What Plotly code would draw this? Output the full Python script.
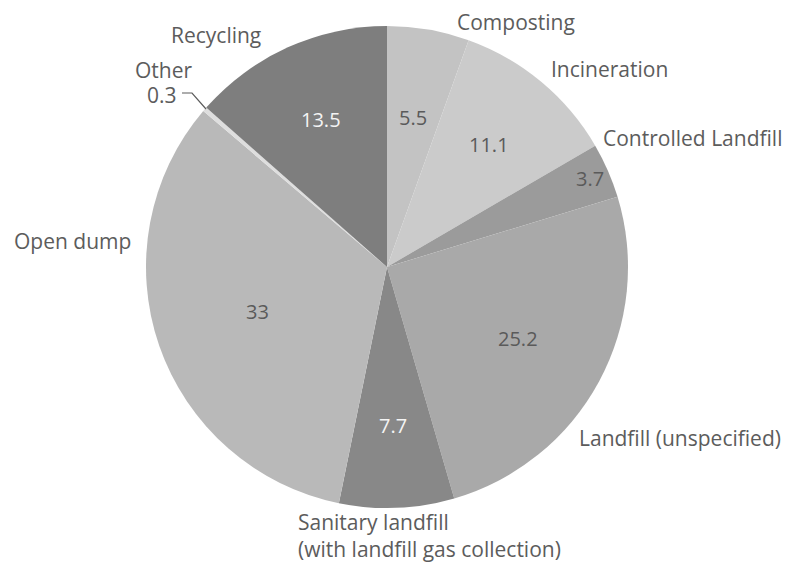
import math

import plotly.graph_objects as go

# Shares of waste treatment / disposal (%)
LABELS = [
    "Composting",
    "Incineration",
    "Controlled Landfill",
    "Landfill (unspecified)",
    "Sanitary landfill<br>(with landfill gas collection)",
    "Open dump",
    "Other",
    "Recycling",
]
VALUES = [5.5, 11.1, 3.7, 25.2, 7.7, 33, 0.3, 13.5]
VALUE_TEXT = ["5.5", "11.1", "3.7", "25.2", "7.7", "33", "0.3", "13.5"]

# Styling
W, H = 787, 562
CX, CY, R = 387, 267, 241
SLICE_COLORS = ["#c3c3c3", "#cbcbcb", "#9b9b9b", "#a9a9a9",
                "#888888", "#b9b9b9", "#dedede", "#7e7e7e"]
VALUE_COLORS = ["#5a5a5a", "#5a5a5a", "#5a5a5a", "#5a5a5a",
                "#f4f4f4", "#5a5a5a", "#5a5a5a", "#f4f4f4"]
VALUE_RADIUS = [0.63, 0.66, 0.92, 0.62, 0.66, 0.57, None, 0.67]
INK = "#5c5c5c"
FONT = "Open Sans"
LABEL_SIZE = 21

# outside label placement in pixels: (x, y, xanchor)
LABEL_POS = [
    (516, 22, "center"),
    (609, 69, "center"),
    (692, 138, "center"),
    (680, 438, "center"),
    (296, 535, "left"),
    (72, 241, "center"),
    (194, 70, "right"),
    (216, 35, "center"),
]


def px(x, y):
    """Screen pixel -> paper coordinates."""
    return x / W, 1 - y / H


x0, y1 = px(CX - R, CY + R)
x1, y0 = px(CX + R, CY - R)

fig = go.Figure(
    go.Pie(
        labels=LABELS,
        values=VALUES,
        sort=False,
        direction="clockwise",
        rotation=0,
        marker={"colors": SLICE_COLORS, "line": {"width": 0}},
        textinfo="none",
        hoverinfo="label+value",
        showlegend=False,
        domain={"x": [x0, x1], "y": [y1, y0]},
    )
)

# value labels inside slices, placed at each slice's mid angle
total = sum(VALUES)
cum = 0.0
for val, txt, col, rf in zip(VALUES, VALUE_TEXT, VALUE_COLORS, VALUE_RADIUS):
    mid = (cum + val / 2) / total * 2 * math.pi
    cum += val
    if rf is None:
        continue
    ax, ay = px(CX + rf * R * math.sin(mid), CY - rf * R * math.cos(mid))
    fig.add_annotation(x=ax, y=ay, xref="paper", yref="paper", text=txt,
                       showarrow=False, xanchor="center", yanchor="middle",
                       font={"size": 20, "color": col})

for lab, (x, y, anchor) in zip(LABELS, LABEL_POS):
    ax, ay = px(x, y)
    fig.add_annotation(x=ax, y=ay, xref="paper", yref="paper", text=lab,
                       showarrow=False, xanchor=anchor, yanchor="middle",
                       align="left", font={"size": LABEL_SIZE, "color": INK})

# small-slice callout for "Other"
ax, ay = px(179, 95)
fig.add_annotation(x=ax, y=ay, xref="paper", yref="paper", text=VALUE_TEXT[6],
                   showarrow=False, xanchor="right", yanchor="middle",
                   font={"size": LABEL_SIZE, "color": INK})
pts = [px(182, 93), px(192, 93), px(206, 109)]
fig.add_shape(type="path", xref="paper", yref="paper",
              path=f"M {pts[0][0]} {pts[0][1]} L {pts[1][0]} {pts[1][1]} L {pts[2][0]} {pts[2][1]}",
              line={"color": INK, "width": 1.2})

fig.update_layout(
    width=W,
    height=H,
    margin={"l": 0, "r": 0, "t": 0, "b": 0},
    font={"family": FONT, "size": 20, "color": INK},
    paper_bgcolor="white",
    plot_bgcolor="white",
)

# drop the browser's default body margin so the figure fills the window
fig.write_html("out.html", config={"displayModeBar": False},
               post_script="document.body.style.margin = '0';")
